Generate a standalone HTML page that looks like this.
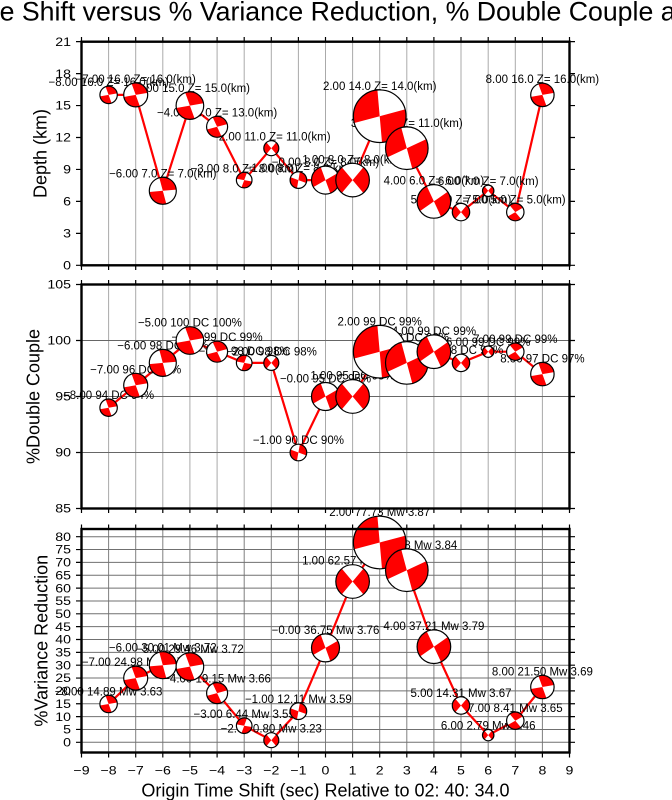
<!DOCTYPE html>
<html><head><meta charset="utf-8"><style>
html,body{margin:0;padding:0;background:#fff;}
svg{display:block;font-family:"Liberation Sans",Arial,sans-serif;}
.w{fill:#fff}
.o{fill:none;stroke:#000;stroke-width:1.2}
.lb{font-size:11.5px;text-anchor:middle;fill:#000}
.tk{font-size:11.8px;text-anchor:end;fill:#000}
.bx{font-size:11.8px;text-anchor:middle;fill:#000}
.ax{font-size:18px;text-anchor:middle;fill:#000}
</style></head><body>
<svg width="672" height="800" viewBox="0 0 672 800" xmlns="http://www.w3.org/2000/svg">
<defs><path id="q" d="M0 0L.6428 -.766A1 1 0 0 1 .6428 .766ZM0 0L-.6428 .766A1 1 0 0 1 -.6428 -.766Z" fill="#f00"/></defs>
<rect width="672" height="800" fill="#fff"/>
<text x="-122" y="20.5" font-size="26.7">Origin Time Shift versus % Variance Reduction, % Double Couple and Depth</text>

<!-- grids -->
<path stroke="#aaa" stroke-width="1" fill="none" d="M108.6 41.7V265.3M135.7 41.7V265.3M162.8 41.7V265.3M189.9 41.7V265.3M217.1 41.7V265.3M244.2 41.7V265.3M271.3 41.7V265.3M298.4 41.7V265.3M325.5 41.7V265.3M352.6 41.7V265.3M379.7 41.7V265.3M406.8 41.7V265.3M433.9 41.7V265.3M461 41.7V265.3M488.2 41.7V265.3M515.3 41.7V265.3M542.4 41.7V265.3"/>
<path stroke="#aaa" stroke-width="1" fill="none" d="M108.6 284.5V508.5M135.7 284.5V508.5M162.8 284.5V508.5M189.9 284.5V508.5M217.1 284.5V508.5M244.2 284.5V508.5M271.3 284.5V508.5M298.4 284.5V508.5M325.5 284.5V508.5M352.6 284.5V508.5M379.7 284.5V508.5M406.8 284.5V508.5M433.9 284.5V508.5M461 284.5V508.5M488.2 284.5V508.5M515.3 284.5V508.5M542.4 284.5V508.5"/>
<path stroke="#666" stroke-width="1" fill="none" d="M81.5 340.5H569.5M81.5 396.5H569.5M81.5 452.5H569.5"/>
<path stroke="#808080" stroke-width="1" fill="none" d="M108.6 529V752.5M135.7 529V752.5M162.8 529V752.5M189.9 529V752.5M217.1 529V752.5M244.2 529V752.5M271.3 529V752.5M298.4 529V752.5M325.5 529V752.5M352.6 529V752.5M379.7 529V752.5M406.8 529V752.5M433.9 529V752.5M461 529V752.5M488.2 529V752.5M515.3 529V752.5M542.4 529V752.5"/>
<path stroke="#707070" stroke-width="1" fill="none" d="M81.5 742.3H569.5M81.5 729.45H569.5M81.5 716.6H569.5M81.5 703.75H569.5M81.5 690.9H569.5M81.5 678.05H569.5M81.5 665.2H569.5M81.5 652.35H569.5M81.5 639.5H569.5M81.5 626.65H569.5M81.5 613.8H569.5M81.5 600.95H569.5M81.5 588.1H569.5M81.5 575.25H569.5M81.5 562.4H569.5M81.5 549.55H569.5M81.5 536.7H569.5"/>

<!-- ticks -->
<path stroke="#000" stroke-width="1.2" fill="none" d="
M76 265.3H81.5M76 233.35H81.5M76 201.4H81.5M76 169.45H81.5M76 137.5H81.5M76 105.55H81.5M76 73.6H81.5M76 41.65H81.5
M569.5 265.3H575M569.5 233.35H575M569.5 201.4H575M569.5 169.45H575M569.5 137.5H575M569.5 105.55H575M569.5 73.6H575M569.5 41.65H575
M76 284.5H81.5M76 340.5H81.5M76 396.5H81.5M76 452.5H81.5M76 508.5H81.5
M569.5 284.5H575M569.5 340.5H575M569.5 396.5H575M569.5 452.5H575M569.5 508.5H575
M76 742.3H81.5M76 729.45H81.5M76 716.6H81.5M76 703.75H81.5M76 690.9H81.5M76 678.05H81.5M76 665.2H81.5M76 652.35H81.5M76 639.5H81.5M76 626.65H81.5M76 613.8H81.5M76 600.95H81.5M76 588.1H81.5M76 575.25H81.5M76 562.4H81.5M76 549.55H81.5M76 536.7H81.5
M569.5 742.3H575M569.5 729.45H575M569.5 716.6H575M569.5 703.75H575M569.5 690.9H575M569.5 678.05H575M569.5 665.2H575M569.5 652.35H575M569.5 639.5H575M569.5 626.65H575M569.5 613.8H575M569.5 600.95H575M569.5 588.1H575M569.5 575.25H575M569.5 562.4H575M569.5 549.55H575M569.5 536.7H575
M81.5 37V41.7M108.6 37V41.7M135.7 37V41.7M162.8 37V41.7M189.9 37V41.7M217.1 37V41.7M244.2 37V41.7M271.3 37V41.7M298.4 37V41.7M325.5 37V41.7M352.6 37V41.7M379.7 37V41.7M406.8 37V41.7M433.9 37V41.7M461 37V41.7M488.2 37V41.7M515.3 37V41.7M542.4 37V41.7M569.5 37V41.7
M81.5 265.3V270M108.6 265.3V270M135.7 265.3V270M162.8 265.3V270M189.9 265.3V270M217.1 265.3V270M244.2 265.3V270M271.3 265.3V270M298.4 265.3V270M325.5 265.3V270M352.6 265.3V270M379.7 265.3V270M406.8 265.3V270M433.9 265.3V270M461 265.3V270M488.2 265.3V270M515.3 265.3V270M542.4 265.3V270M569.5 265.3V270
M81.5 280V284.5M108.6 280V284.5M135.7 280V284.5M162.8 280V284.5M189.9 280V284.5M217.1 280V284.5M244.2 280V284.5M271.3 280V284.5M298.4 280V284.5M325.5 280V284.5M352.6 280V284.5M379.7 280V284.5M406.8 280V284.5M433.9 280V284.5M461 280V284.5M488.2 280V284.5M515.3 280V284.5M542.4 280V284.5M569.5 280V284.5
M81.5 508.5V513M108.6 508.5V513M135.7 508.5V513M162.8 508.5V513M189.9 508.5V513M217.1 508.5V513M244.2 508.5V513M271.3 508.5V513M298.4 508.5V513M325.5 508.5V513M352.6 508.5V513M379.7 508.5V513M406.8 508.5V513M433.9 508.5V513M461 508.5V513M488.2 508.5V513M515.3 508.5V513M542.4 508.5V513M569.5 508.5V513
M81.5 524.5V529M108.6 524.5V529M135.7 524.5V529M162.8 524.5V529M189.9 524.5V529M217.1 524.5V529M244.2 524.5V529M271.3 524.5V529M298.4 524.5V529M325.5 524.5V529M352.6 524.5V529M379.7 524.5V529M406.8 524.5V529M433.9 524.5V529M461 524.5V529M488.2 524.5V529M515.3 524.5V529M542.4 524.5V529M569.5 524.5V529
M81.5 752.5V757.5M108.6 752.5V757.5M135.7 752.5V757.5M162.8 752.5V757.5M189.9 752.5V757.5M217.1 752.5V757.5M244.2 752.5V757.5M271.3 752.5V757.5M298.4 752.5V757.5M325.5 752.5V757.5M352.6 752.5V757.5M379.7 752.5V757.5M406.8 752.5V757.5M433.9 752.5V757.5M461 752.5V757.5M488.2 752.5V757.5M515.3 752.5V757.5M542.4 752.5V757.5M569.5 752.5V757.5"/>

<!-- y tick labels -->
<g class="tk">
<text transform="matrix(1.2 0 0 1 71 269.5)">0</text>
<text transform="matrix(1.2 0 0 1 71 237.5)">3</text>
<text transform="matrix(1.2 0 0 1 71 205.6)">6</text>
<text transform="matrix(1.2 0 0 1 71 173.6)">9</text>
<text transform="matrix(1.2 0 0 1 71 141.7)">12</text>
<text transform="matrix(1.2 0 0 1 71 109.7)">15</text>
<text transform="matrix(1.2 0 0 1 71 77.8)">18</text>
<text transform="matrix(1.2 0 0 1 71 45.9)">21</text>
<text transform="matrix(1.2 0 0 1 71 288.7)">105</text>
<text transform="matrix(1.2 0 0 1 71 344.7)">100</text>
<text transform="matrix(1.2 0 0 1 71 400.7)">95</text>
<text transform="matrix(1.2 0 0 1 71 456.7)">90</text>
<text transform="matrix(1.2 0 0 1 71 512.7)">85</text>
<text transform="matrix(1.2 0 0 1 71 746.5)">0</text>
<text transform="matrix(1.2 0 0 1 71 733.6)">5</text>
<text transform="matrix(1.2 0 0 1 71 720.8)">10</text>
<text transform="matrix(1.2 0 0 1 71 707.9)">15</text>
<text transform="matrix(1.2 0 0 1 71 695.1)">20</text>
<text transform="matrix(1.2 0 0 1 71 682.2)">25</text>
<text transform="matrix(1.2 0 0 1 71 669.4)">30</text>
<text transform="matrix(1.2 0 0 1 71 656.5)">35</text>
<text transform="matrix(1.2 0 0 1 71 643.7)">40</text>
<text transform="matrix(1.2 0 0 1 71 630.8)">45</text>
<text transform="matrix(1.2 0 0 1 71 618)">50</text>
<text transform="matrix(1.2 0 0 1 71 605.1)">55</text>
<text transform="matrix(1.2 0 0 1 71 592.3)">60</text>
<text transform="matrix(1.2 0 0 1 71 579.4)">65</text>
<text transform="matrix(1.2 0 0 1 71 566.6)">70</text>
<text transform="matrix(1.2 0 0 1 71 553.7)">75</text>
<text transform="matrix(1.2 0 0 1 71 540.9)">80</text>
</g>
<!-- x tick labels -->
<g class="bx">
<text transform="matrix(1.2 0 0 1 81.5 774.5)">−9</text>
<text transform="matrix(1.2 0 0 1 108.6 774.5)">−8</text>
<text transform="matrix(1.2 0 0 1 135.7 774.5)">−7</text>
<text transform="matrix(1.2 0 0 1 162.8 774.5)">−6</text>
<text transform="matrix(1.2 0 0 1 189.9 774.5)">−5</text>
<text transform="matrix(1.2 0 0 1 217.1 774.5)">−4</text>
<text transform="matrix(1.2 0 0 1 244.2 774.5)">−3</text>
<text transform="matrix(1.2 0 0 1 271.3 774.5)">−2</text>
<text transform="matrix(1.2 0 0 1 298.4 774.5)">−1</text>
<text transform="matrix(1.2 0 0 1 325.5 774.5)">0</text>
<text transform="matrix(1.2 0 0 1 352.6 774.5)">1</text>
<text transform="matrix(1.2 0 0 1 379.7 774.5)">2</text>
<text transform="matrix(1.2 0 0 1 406.8 774.5)">3</text>
<text transform="matrix(1.2 0 0 1 433.9 774.5)">4</text>
<text transform="matrix(1.2 0 0 1 461 774.5)">5</text>
<text transform="matrix(1.2 0 0 1 488.2 774.5)">6</text>
<text transform="matrix(1.2 0 0 1 515.3 774.5)">7</text>
<text transform="matrix(1.2 0 0 1 542.4 774.5)">8</text>
<text transform="matrix(1.2 0 0 1 569.5 774.5)">9</text>
</g>
<text class="ax" x="325.5" y="796.5">Origin Time Shift (sec) Relative to 02: 40: 34.0</text>
<text class="ax" transform="translate(46.5 153.5) rotate(-90)">Depth (km)</text>
<text class="ax" transform="translate(39.5 396.5) rotate(-90)">%Double Couple</text>
<text class="ax" transform="translate(47.5 640.7) rotate(-90)">%Variance Reduction</text>

<!-- red lines -->
<g fill="none" stroke="#f00" stroke-width="2.2" stroke-linejoin="round">
<polyline points="108.6,94.9 135.7,94.9 162.8,190.8 189.9,105.6 217.1,126.8 244.2,180.1 271.3,148.2 298.4,180.1 325.5,180.1 352.6,180.1 379.7,116.2 406.8,148.2 433.9,201.4 461,212.1 488.2,190.8 515.3,212.1 542.4,94.9"/>
<polyline points="108.6,407.7 135.7,385.3 162.8,362.9 189.9,340.5 217.1,351.7 244.2,362.9 271.3,362.9 298.4,452.5 325.5,396.5 352.6,396.5 379.7,351.7 406.8,362.9 433.9,351.7 461,362.9 488.2,351.7 515.3,351.7 542.4,374.1"/>
<polyline points="108.6,704 135.7,678.1 162.8,665.2 189.9,666.6 217.1,693.1 244.2,725.7 271.3,740.2 298.4,711.2 325.5,647.9 352.6,581.5 379.7,542.5 406.8,570.2 433.9,646.7 461,705.5 488.2,735.1 515.3,720.7 542.4,687"/>
</g>

<!-- labels P1 -->
<g class="lb">
<text x="108.6" y="86.2">−8.00 16.0 Z= 16.0(km)</text>
<text x="135.7" y="82.9">−7.00 16.0 Z= 16.0(km)</text>
<text x="162.8" y="177.3">−6.00 7.0 Z= 7.0(km)</text>
<text x="189.9" y="91.8">−5.00 15.0 Z= 15.0(km)</text>
<text x="217.1" y="116.3">−4.00 13.0 Z= 13.0(km)</text>
<text x="244.2" y="172.3">−3.00 8.0 Z= 8.0(km)</text>
<text x="271.3" y="140.7">−2.00 11.0 Z= 11.0(km)</text>
<text x="298.4" y="171.8">−1.00 8.0 Z= 8.0(km)</text>
<text x="325.5" y="166.1">−0.00 8.0 Z= 8.0(km)</text>
<text x="352.6" y="163.3">1.00 8.0 Z= 8.0(km)</text>
<text x="379.7" y="89.9">2.00 14.0 Z= 14.0(km)</text>
<text x="406.8" y="126.9">3.00 11.0 Z= 11.0(km)</text>
<text x="433.9" y="184.6">4.00 6.0 Z= 6.0(km)</text>
<text x="461" y="203.4">5.00 5.0 Z= 5.0(km)</text>
<text x="488.2" y="185.1">6.00 7.0 Z= 7.0(km)</text>
<text x="515.3" y="203.4">7.00 5.0 Z= 5.0(km)</text>
<text x="542.4" y="83.2">8.00 16.0 Z= 16.0(km)</text>
</g>
<!-- labels P2 -->
<g class="lb">
<text x="108.6" y="399">−8.00 94 DC 94%</text>
<text x="135.7" y="373.3">−7.00 96 DC 96%</text>
<text x="162.8" y="349.4">−6.00 98 DC 98%</text>
<text x="189.9" y="326.7">−5.00 100 DC 100%</text>
<text x="217.1" y="341.2">−4.00 99 DC 99%</text>
<text x="244.2" y="355.1">−3.00 98 DC 98%</text>
<text x="271.3" y="355.4">−2.00 98 DC 98%</text>
<text x="298.4" y="444.2">−1.00 90 DC 90%</text>
<text x="325.5" y="382.5">−0.00 95 DC 95%</text>
<text x="352.6" y="379.7">1.00 95 DC 95%</text>
<text x="379.7" y="325.4">2.00 99 DC 99%</text>
<text x="406.8" y="341.6">3.00 98 DC 98%</text>
<text x="433.9" y="334.9">4.00 99 DC 99%</text>
<text x="461" y="354.2">5.00 98 DC 98%</text>
<text x="488.2" y="346">6.00 99 DC 99%</text>
<text x="515.3" y="343">7.00 99 DC 99%</text>
<text x="542.4" y="362.4">8.00 97 DC 97%</text>
</g>
<!-- labels P3 -->
<g class="lb">
<text x="108.6" y="695.3">−8.00 14.89 Mw 3.63</text>
<text x="135.7" y="666.1">−7.00 24.98 Mw 3.70</text>
<text x="162.8" y="651.7">−6.00 30.01 Mw 3.72</text>
<text x="189.9" y="652.8">−5.00 29.46 Mw 3.72</text>
<text x="217.1" y="682.6">−4.00 19.15 Mw 3.66</text>
<text x="244.2" y="717.9">−3.00 6.44 Mw 3.55</text>
<text x="271.3" y="732.7">−2.00 0.80 Mw 3.23</text>
<text x="298.4" y="702.9">−1.00 12.11 Mw 3.59</text>
<text x="325.5" y="633.9">−0.00 36.75 Mw 3.76</text>
<text x="352.6" y="564.7">1.00 62.57 Mw 3.84</text>
<text x="379.7" y="516.2">2.00 77.73 Mw 3.87</text>
<text x="406.8" y="548.9">3.00 66.98 Mw 3.84</text>
<text x="433.9" y="629.9">4.00 37.21 Mw 3.79</text>
<text x="461" y="696.8">5.00 14.31 Mw 3.67</text>
<text x="488.2" y="729.4">6.00 2.79 Mw 3.46</text>
<text x="515.3" y="712">7.00 8.41 Mw 3.65</text>
<text x="542.4" y="675.3">8.00 21.50 Mw 3.69</text>
</g>

<!-- balls P1 -->
<g transform="translate(108.6 94.9)"><circle r="8.7" class="w"/><use href="#q" transform="rotate(-60) scale(8.7)"/><circle r="8.7" class="o"/></g>
<g transform="translate(135.7 94.9)"><circle r="12" class="w"/><use href="#q" transform="rotate(-60) scale(12)"/><circle r="12" class="o"/></g>
<g transform="translate(162.8 190.8)"><circle r="13.5" class="w"/><use href="#q" transform="rotate(-55) scale(13.5)"/><circle r="13.5" class="o"/></g>
<g transform="translate(189.9 105.6)"><circle r="13.8" class="w"/><use href="#q" transform="rotate(-60) scale(13.8)"/><circle r="13.8" class="o"/></g>
<g transform="translate(217.1 126.8)"><circle r="10.5" class="w"/><use href="#q" transform="rotate(-65) scale(10.5)"/><circle r="10.5" class="o"/></g>
<g transform="translate(244.2 180.1)"><circle r="7.8" class="w"/><use href="#q" transform="rotate(60) scale(7.8)"/><circle r="7.8" class="o"/></g>
<g transform="translate(271.3 148.2)"><circle r="7.5" class="w"/><use href="#q" transform="rotate(0) scale(7.5)"/><circle r="7.5" class="o"/></g>
<g transform="translate(298.4 180.1)"><circle r="8.3" class="w"/><use href="#q" transform="rotate(-30) scale(8.3)"/><circle r="8.3" class="o"/></g>
<g transform="translate(325.5 180.1)"><circle r="14" class="w"/><use href="#q" transform="rotate(20) scale(14)"/><circle r="14" class="o"/></g>
<g transform="translate(352.6 180.1)"><circle r="16.8" class="w"/><use href="#q" transform="rotate(0) scale(16.8)"/><circle r="16.8" class="o"/></g>
<g transform="translate(379.7 116.2)"><circle r="26.3" class="w"/><use href="#q" transform="rotate(35) scale(26.3)"/><circle r="26.3" class="o"/></g>
<g transform="translate(406.8 148.2)"><circle r="21.3" class="w"/><use href="#q" transform="rotate(25) scale(21.3)"/><circle r="21.3" class="o"/></g>
<g transform="translate(433.9 201.4)"><circle r="16.8" class="w"/><use href="#q" transform="rotate(15) scale(16.8)"/><circle r="16.8" class="o"/></g>
<g transform="translate(461 212.1)"><circle r="8.7" class="w"/><use href="#q" transform="rotate(0) scale(8.7)"/><circle r="8.7" class="o"/></g>
<g transform="translate(488.2 190.8)"><circle r="5.7" class="w"/><use href="#q" transform="rotate(0) scale(5.7)"/><circle r="5.7" class="o"/></g>
<g transform="translate(515.3 212.1)"><circle r="8.7" class="w"/><use href="#q" transform="rotate(-80) scale(8.7)"/><circle r="8.7" class="o"/></g>
<g transform="translate(542.4 94.9)"><circle r="11.7" class="w"/><use href="#q" transform="rotate(-60) scale(11.7)"/><circle r="11.7" class="o"/></g>
<!-- balls P2 -->
<g transform="translate(108.6 407.7)"><circle r="8.7" class="w"/><use href="#q" transform="rotate(-60) scale(8.7)"/><circle r="8.7" class="o"/></g>
<g transform="translate(135.7 385.3)"><circle r="12" class="w"/><use href="#q" transform="rotate(-60) scale(12)"/><circle r="12" class="o"/></g>
<g transform="translate(162.8 362.9)"><circle r="13.5" class="w"/><use href="#q" transform="rotate(-55) scale(13.5)"/><circle r="13.5" class="o"/></g>
<g transform="translate(189.9 340.5)"><circle r="13.8" class="w"/><use href="#q" transform="rotate(-60) scale(13.8)"/><circle r="13.8" class="o"/></g>
<g transform="translate(217.1 351.7)"><circle r="10.5" class="w"/><use href="#q" transform="rotate(-65) scale(10.5)"/><circle r="10.5" class="o"/></g>
<g transform="translate(244.2 362.9)"><circle r="7.8" class="w"/><use href="#q" transform="rotate(60) scale(7.8)"/><circle r="7.8" class="o"/></g>
<g transform="translate(271.3 362.9)"><circle r="7.5" class="w"/><use href="#q" transform="rotate(0) scale(7.5)"/><circle r="7.5" class="o"/></g>
<g transform="translate(298.4 452.5)"><circle r="8.3" class="w"/><use href="#q" transform="rotate(-30) scale(8.3)"/><circle r="8.3" class="o"/></g>
<g transform="translate(325.5 396.5)"><circle r="14" class="w"/><use href="#q" transform="rotate(20) scale(14)"/><circle r="14" class="o"/></g>
<g transform="translate(352.6 396.5)"><circle r="16.8" class="w"/><use href="#q" transform="rotate(0) scale(16.8)"/><circle r="16.8" class="o"/></g>
<g transform="translate(379.7 351.7)"><circle r="26.3" class="w"/><use href="#q" transform="rotate(35) scale(26.3)"/><circle r="26.3" class="o"/></g>
<g transform="translate(406.8 362.9)"><circle r="21.3" class="w"/><use href="#q" transform="rotate(25) scale(21.3)"/><circle r="21.3" class="o"/></g>
<g transform="translate(433.9 351.7)"><circle r="16.8" class="w"/><use href="#q" transform="rotate(15) scale(16.8)"/><circle r="16.8" class="o"/></g>
<g transform="translate(461 362.9)"><circle r="8.7" class="w"/><use href="#q" transform="rotate(0) scale(8.7)"/><circle r="8.7" class="o"/></g>
<g transform="translate(488.2 351.7)"><circle r="5.7" class="w"/><use href="#q" transform="rotate(0) scale(5.7)"/><circle r="5.7" class="o"/></g>
<g transform="translate(515.3 351.7)"><circle r="8.7" class="w"/><use href="#q" transform="rotate(-80) scale(8.7)"/><circle r="8.7" class="o"/></g>
<g transform="translate(542.4 374.1)"><circle r="11.7" class="w"/><use href="#q" transform="rotate(-60) scale(11.7)"/><circle r="11.7" class="o"/></g>
<!-- balls P3 -->
<g transform="translate(108.6 704)"><circle r="8.7" class="w"/><use href="#q" transform="rotate(-60) scale(8.7)"/><circle r="8.7" class="o"/></g>
<g transform="translate(135.7 678.1)"><circle r="12" class="w"/><use href="#q" transform="rotate(-60) scale(12)"/><circle r="12" class="o"/></g>
<g transform="translate(162.8 665.2)"><circle r="13.5" class="w"/><use href="#q" transform="rotate(-55) scale(13.5)"/><circle r="13.5" class="o"/></g>
<g transform="translate(189.9 666.6)"><circle r="13.8" class="w"/><use href="#q" transform="rotate(-60) scale(13.8)"/><circle r="13.8" class="o"/></g>
<g transform="translate(217.1 693.1)"><circle r="10.5" class="w"/><use href="#q" transform="rotate(-65) scale(10.5)"/><circle r="10.5" class="o"/></g>
<g transform="translate(244.2 725.7)"><circle r="7.8" class="w"/><use href="#q" transform="rotate(60) scale(7.8)"/><circle r="7.8" class="o"/></g>
<g transform="translate(271.3 740.2)"><circle r="7.5" class="w"/><use href="#q" transform="rotate(0) scale(7.5)"/><circle r="7.5" class="o"/></g>
<g transform="translate(298.4 711.2)"><circle r="8.3" class="w"/><use href="#q" transform="rotate(-30) scale(8.3)"/><circle r="8.3" class="o"/></g>
<g transform="translate(325.5 647.9)"><circle r="14" class="w"/><use href="#q" transform="rotate(20) scale(14)"/><circle r="14" class="o"/></g>
<g transform="translate(352.6 581.5)"><circle r="16.8" class="w"/><use href="#q" transform="rotate(0) scale(16.8)"/><circle r="16.8" class="o"/></g>
<g transform="translate(379.7 542.5)"><circle r="26.3" class="w"/><use href="#q" transform="rotate(35) scale(26.3)"/><circle r="26.3" class="o"/></g>
<g transform="translate(406.8 570.2)"><circle r="21.3" class="w"/><use href="#q" transform="rotate(25) scale(21.3)"/><circle r="21.3" class="o"/></g>
<g transform="translate(433.9 646.7)"><circle r="16.8" class="w"/><use href="#q" transform="rotate(15) scale(16.8)"/><circle r="16.8" class="o"/></g>
<g transform="translate(461 705.5)"><circle r="8.7" class="w"/><use href="#q" transform="rotate(0) scale(8.7)"/><circle r="8.7" class="o"/></g>
<g transform="translate(488.2 735.1)"><circle r="5.7" class="w"/><use href="#q" transform="rotate(0) scale(5.7)"/><circle r="5.7" class="o"/></g>
<g transform="translate(515.3 720.7)"><circle r="8.7" class="w"/><use href="#q" transform="rotate(-80) scale(8.7)"/><circle r="8.7" class="o"/></g>
<g transform="translate(542.4 687)"><circle r="11.7" class="w"/><use href="#q" transform="rotate(-60) scale(11.7)"/><circle r="11.7" class="o"/></g>

<!-- frames -->
<g fill="none" stroke="#000" stroke-width="2.4">
<rect x="81.5" y="41.7" width="488" height="223.6"/>
<rect x="81.5" y="284.5" width="488" height="224"/>
<rect x="81.5" y="529" width="488" height="223.5"/>
</g>
</svg>
</body></html>
